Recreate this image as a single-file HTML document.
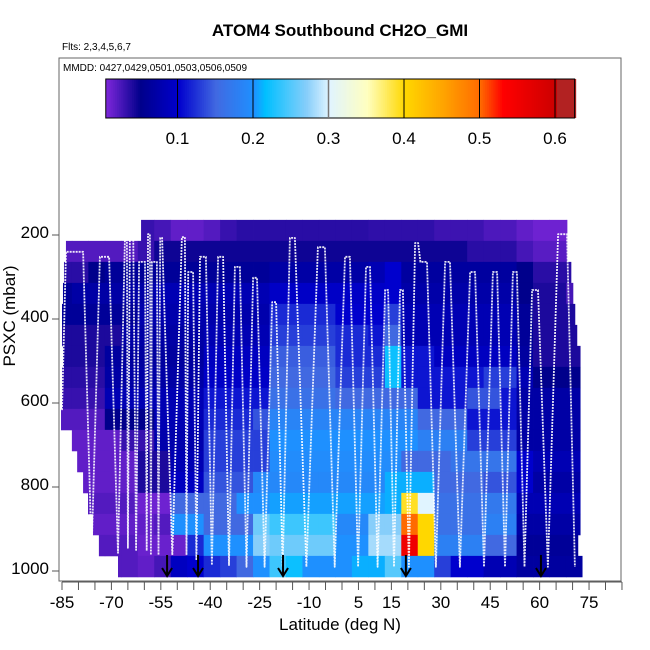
<!DOCTYPE html>
<html><head><meta charset="utf-8"><style>
html,body{margin:0;padding:0;background:#fff;}
svg{display:block;font-family:"Liberation Sans",sans-serif;}
</style></head><body>
<svg id="chart" width="650" height="650" viewBox="0 0 650 650" xmlns="http://www.w3.org/2000/svg">
<text x="340" y="36" text-anchor="middle" font-size="17" font-weight="bold">ATOM4 Southbound CH2O_GMI</text>
<text x="62" y="50" font-size="10">Flts: 2,3,4,5,6,7</text>
<text x="63" y="71" font-size="10">MMDD: 0427,0429,0501,0503,0506,0509</text>
<g id="heat"></g>
<g id="prof"></g>
<g id="arrows"></g>
<g id="cbar"></g>
<rect x="59" y="58" width="562" height="523" fill="none" stroke="#666" stroke-width="1"/>
<g id="axes"></g>
<text x="340" y="630" text-anchor="middle" font-size="17">Latitude (deg N)</text>
<text x="0" y="0" transform="translate(15,316) rotate(-90)" text-anchor="middle" font-size="17">PSXC (mbar)</text>
</svg>
<script>
var NS="http://www.w3.org/2000/svg";
var latStarts=[-87,-82,-77,-72,-67,-62,-57,-52,-47,-42,-37,-32,-27,-22,-17,-12,-7,-2,3,8,13,18,23,28,33,38,43,48,53,58,63,68,73];
var presTops=[164,214,264,314,364,414,464,514,564,614,664,714,764,814,864,914,964];
var rowLatMin=[-61,-83.8,-84.4,-84.7,-85,-85,-84.7,-85,-85,-85.3,-82,-80.4,-78.6,-77.1,-75.6,-73.8,-68];
var rowLatMax=[68.3,68.3,69.5,70.1,70.7,71.3,72.3,72.3,72.3,72.3,72.3,72.3,72.3,72.3,72.3,71.6,72.9];
var vals=[
[0.03,0.03,0.03,0.03,0.03,0.03,0.025,0.015,0.015,0.02,0.03,0.035,0.035,0.035,0.035,0.035,0.035,0.035,0.035,0.033,0.033,0.033,0.033,0.028,0.028,0.028,0.022,0.022,0.015,0.01,0.01,0.01,0.01],
[0.02,0.02,0.02,0.02,0.02,0.03,0.045,0.045,0.045,0.045,0.045,0.045,0.045,0.045,0.045,0.045,0.045,0.045,0.045,0.045,0.045,0.045,0.045,0.045,0.045,0.035,0.035,0.035,0.025,0.018,0.018,0.018,0.018],
[0.035,0.035,0.05,0.06,0.06,0.06,0.06,0.06,0.06,0.06,0.06,0.06,0.06,0.07,0.07,0.07,0.07,0.07,0.07,0.08,0.1,0.065,0.065,0.065,0.065,0.065,0.065,0.065,0.05,0.035,0.035,0.035,0.035],
[0.06,0.07,0.07,0.07,0.07,0.07,0.08,0.08,0.08,0.08,0.08,0.08,0.08,0.095,0.095,0.095,0.095,0.095,0.095,0.095,0.1,0.072,0.072,0.072,0.072,0.072,0.072,0.072,0.05,0.04,0.04,0.025,0.025],
[0.06,0.06,0.06,0.06,0.06,0.075,0.075,0.075,0.075,0.075,0.075,0.075,0.075,0.12,0.12,0.12,0.12,0.1,0.1,0.1,0.13,0.08,0.08,0.08,0.08,0.08,0.08,0.08,0.06,0.04,0.04,0.04,0.04],
[0.04,0.04,0.04,0.04,0.07,0.07,0.07,0.07,0.07,0.08,0.08,0.08,0.08,0.13,0.13,0.13,0.13,0.12,0.12,0.11,0.15,0.08,0.08,0.08,0.08,0.08,0.08,0.08,0.06,0.04,0.04,0.04,0.04],
[0.04,0.04,0.04,0.065,0.065,0.065,0.065,0.065,0.065,0.09,0.09,0.09,0.09,0.145,0.145,0.145,0.145,0.12,0.12,0.12,0.22,0.11,0.11,0.09,0.09,0.09,0.09,0.09,0.065,0.04,0.04,0.04,0.04],
[0.035,0.035,0.035,0.07,0.07,0.07,0.07,0.07,0.07,0.095,0.095,0.095,0.095,0.15,0.15,0.15,0.15,0.13,0.13,0.13,0.22,0.11,0.11,0.11,0.11,0.11,0.13,0.13,0.08,0.05,0.05,0.05,0.05],
[0.03,0.03,0.03,0.08,0.08,0.08,0.08,0.08,0.08,0.11,0.11,0.11,0.11,0.16,0.16,0.16,0.16,0.15,0.15,0.15,0.15,0.15,0.11,0.11,0.11,0.14,0.14,0.11,0.07,0.07,0.07,0.07,0.07],
[0.02,0.02,0.02,0.05,0.05,0.05,0.08,0.08,0.08,0.12,0.12,0.12,0.14,0.185,0.185,0.185,0.185,0.185,0.185,0.185,0.185,0.185,0.15,0.15,0.15,0.11,0.11,0.11,0.07,0.07,0.07,0.07,0.07],
[0.015,0.015,0.015,0.015,0.03,0.03,0.075,0.075,0.075,0.13,0.13,0.13,0.13,0.2,0.2,0.2,0.2,0.2,0.2,0.2,0.2,0.2,0.18,0.18,0.18,0.13,0.13,0.13,0.07,0.07,0.07,0.07,0.07],
[0.015,0.015,0.015,0.015,0.015,0.04,0.04,0.08,0.08,0.13,0.13,0.13,0.13,0.195,0.195,0.195,0.195,0.195,0.195,0.195,0.195,0.15,0.15,0.15,0.165,0.165,0.165,0.165,0.1,0.08,0.08,0.08,0.08],
[0.015,0.015,0.015,0.015,0.015,0.04,0.04,0.09,0.09,0.14,0.14,0.14,0.19,0.19,0.19,0.19,0.19,0.19,0.19,0.19,0.21,0.21,0.21,0.15,0.15,0.15,0.14,0.14,0.1,0.07,0.07,0.07,0.07],
[0.02,0.02,0.02,0.02,0.02,0.01,0.01,0.15,0.15,0.15,0.15,0.2,0.2,0.205,0.205,0.205,0.205,0.205,0.205,0.205,0.21,0.39,0.3,0.16,0.16,0.16,0.17,0.17,0.08,0.08,0.08,0.08,0.08],
[0.015,0.015,0.015,0.015,0.015,0.015,0.02,0.2,0.2,0.15,0.15,0.15,0.26,0.24,0.24,0.24,0.24,0.19,0.19,0.27,0.27,0.5,0.4,0.16,0.16,0.16,0.18,0.18,0.07,0.07,0.07,0.07,0.07],
[0.02,0.02,0.02,0.02,0.02,0.012,0.012,0.012,0.12,0.2,0.2,0.2,0.27,0.26,0.26,0.26,0.26,0.2,0.2,0.28,0.28,0.55,0.4,0.18,0.18,0.18,0.15,0.15,0.06,0.06,0.06,0.06,0.06],
[0.02,0.02,0.02,0.02,0.02,0.015,0.025,0.09,0.1,0.12,0.13,0.15,0.2,0.24,0.22,0.2,0.2,0.2,0.21,0.21,0.25,0.2,0.2,0.13,0.1,0.1,0.08,0.08,0.065,0.065,0.065,0.065,0.065]
];
var profLat=[-85,-83.8,-78.6,-76,-73.5,-70.7,-68,-65.9,-65.3,-65,-64.4,-63.4,-62.5,-61.6,-59.8,-59.3,-58.9,-58.3,-58,-57.7,-56.2,-55.7,-55.2,-54.6,-51.5,-48.6,-47.7,-47.2,-46.7,-45.2,-44.2,-43.1,-41.3,-39.5,-37.6,-36.1,-34.3,-32.5,-31.0,-29,-27.0,-25.8,-23.5,-21.2,-20.0,-18,-15.8,-14.3,-10.8,-7.3,-5.2,-2.2,0.9,2.4,4.9,7.3,8.5,10.8,13.1,14.0,15.8,17.6,18.5,20.3,22.2,23.1,23.8,24.6,25.8,28.5,31.3,32.8,35.8,38.9,40.4,43.1,45.8,47.1,49.5,51.9,53.1,55.4,57.7,59.5,62.5,65.6,68.3,70.7];
var profP=[617,240,240,957,252,252,957,212,212,945,193,193,950,264,264,952,198,198,962,264,264,962,207,207,962,205,205,962,288,288,974,252,252,986,252,252,986,276,276,990,302,302,990,360,360,990,207,207,990,229,229,990,252,252,990,276,276,990,331,331,990,331,331,990,219,219,264,264,264,990,264,264,990,288,288,990,288,288,990,288,288,990,331,331,990,198,198,990];
var arrowLats=[-53.1,-43.7,-17.9,19.4,60.4];
var cbTicks=[0.1,0.2,0.3,0.4,0.5,0.6];
var xLabels=[-85,-70,-55,-40,-25,-10,5,15,30,45,60,75];
var yTicks=[200,400,600,800,1000];

function xOf(lat){return 62+(lat+85)*3.294;}
function yOf(p){return 235+(p-200)*0.42;}
function cbX(v){return 102+v*755;}
var stops=[[0,'#8a2be2'],[0.05,'#00008b'],[0.1,'#0000cd'],[0.15,'#4169e1'],[0.2,'#1e90ff'],[0.215,'#00bfff'],[0.27,'#87cefa'],[0.3,'#e0f4ff'],[0.35,'#ffffc0'],[0.4,'#ffd700'],[0.45,'#ffa500'],[0.5,'#ff6a00'],[0.53,'#ff0000'],[0.6,'#cc0000'],[0.601,'#b22222'],[0.7,'#b22222']];
function hex(c){return [parseInt(c.substr(1,2),16),parseInt(c.substr(3,2),16),parseInt(c.substr(5,2),16)];}
function col(v){
  if(v<=0)return stops[0][1];
  for(var i=1;i<stops.length;i++){if(v<=stops[i][0]){var a=hex(stops[i-1][1]),b=hex(stops[i][1]);var t=(v-stops[i-1][0])/(stops[i][0]-stops[i-1][0]);return 'rgb('+Math.round(a[0]+(b[0]-a[0])*t)+','+Math.round(a[1]+(b[1]-a[1])*t)+','+Math.round(a[2]+(b[2]-a[2])*t)+')';}}
  return stops[stops.length-1][1];
}
function mk(tag,attrs,parent){var e=document.createElementNS(NS,tag);for(var k in attrs)e.setAttribute(k,attrs[k]);parent.appendChild(e);return e;}

var heat=document.getElementById('heat');
for(var r=0;r<presTops.length;r++){
  var y0=yOf(presTops[r]),y1=yOf(presTops[r]+50);
  for(var c=0;c<latStarts.length;c++){
    var a=Math.max(latStarts[c],rowLatMin[r]),b=Math.min(latStarts[c]+5,rowLatMax[r]);
    if(b<=a)continue;
    var rc=mk('rect',{x:xOf(a).toFixed(2),y:y0.toFixed(2),width:(xOf(b)-xOf(a)+0.4).toFixed(2),height:(y1-y0+0.4).toFixed(2),fill:col(vals[r][c])},heat);
    
    
  }
}
var prof=document.getElementById('prof');
var pts=[];for(var i=0;i<profLat.length;i++)pts.push(xOf(profLat[i]).toFixed(1)+','+yOf(profP[i]).toFixed(1));
var pl=mk('polyline',{points:pts.join(' '),fill:'none',stroke:'#fff','stroke-width':'1.8','stroke-dasharray':'2 1','stroke-opacity':'0.9','stroke-linejoin':'round'},prof);



var arr=document.getElementById('arrows');
arrowLats.forEach(function(l){
  var x=xOf(l);
  var ln=mk('line',{x1:x,y1:555,x2:x,y2:575,stroke:'#000','stroke-width':'2'},arr);
  
  
  var hd=mk('polyline',{points:(x-5)+',568 '+x+',576 '+(x+5)+',568',fill:'none',stroke:'#000','stroke-width':'2'},arr);
  
  
});

var cb=document.getElementById('cbar');
for(var v=0.005;v<0.626;v+=0.0025){
  var cr=mk('rect',{x:cbX(v).toFixed(2),y:79,width:2.3,height:39,fill:col(v)},cb);
  
  
}
var cbf=mk('rect',{x:cbX(0.005),y:79,width:cbX(0.626)-cbX(0.005),height:39,fill:'none',stroke:'#000','stroke-width':'1'},cb);


cbTicks.forEach(function(t){
  var x=cbX(t);
  var tl=mk('line',{x1:x,y1:79,x2:x,y2:118,stroke:t==0.3?'#777':'#000','stroke-width':t==0.3?'1.5':'1'},cb);
  
  
  var tx=mk('text',{x:x,y:144,'text-anchor':'middle','font-size':'17'},cb);
  tx.textContent=t.toFixed(1);
  
  
});

var ax=document.getElementById('axes');
for(var l=-85;l<=85;l+=5){
  var xt=mk('line',{x1:xOf(l),y1:582,x2:xOf(l),y2:590,stroke:'#555','stroke-width':'1'},ax);
  
  
}
var xl=mk('line',{x1:xOf(-85),y1:582,x2:xOf(85),y2:582,stroke:'#555','stroke-width':'1'},ax);


xLabels.forEach(function(l){
  var t=mk('text',{x:xOf(l),y:608,'text-anchor':'middle','font-size':'17'},ax);
  t.textContent=String(l);
  
  
});
yTicks.forEach(function(p){
  var y=yOf(p);
  var tk=mk('line',{x1:52,y1:y,x2:59,y2:y,stroke:'#555','stroke-width':'1'},ax);
  
  
  var t=mk('text',{x:49,y:y+3,'text-anchor':'end','font-size':'17'},ax);
  t.textContent=String(p);
  
  
});
</script>
</body></html>
